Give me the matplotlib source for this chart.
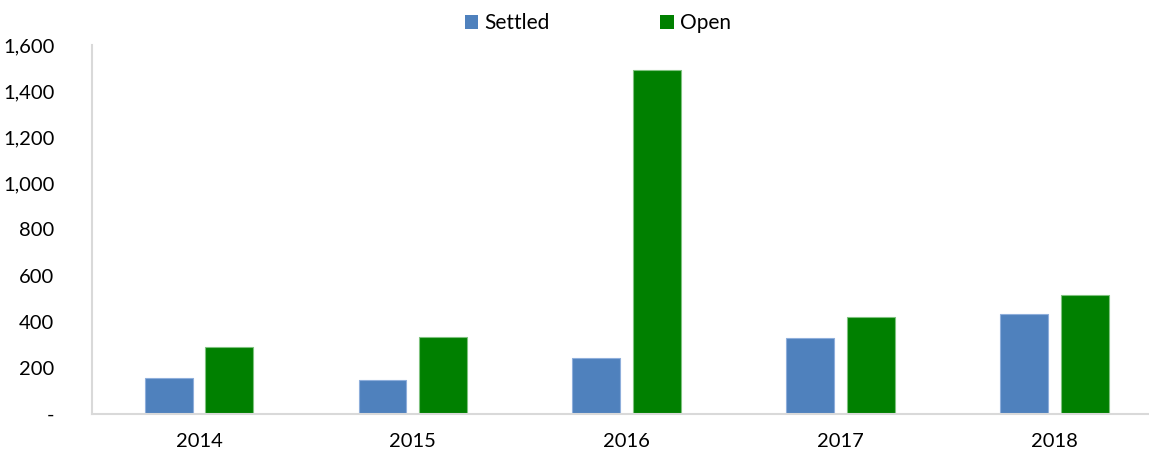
import matplotlib
matplotlib.use("Agg")
import matplotlib.pyplot as plt
import numpy as np
from matplotlib.patches import Patch

years = ["2014", "2015", "2016", "2017", "2018"]
settled = [157, 147, 241, 331, 435]
open_ = [292, 335, 1492, 419, 516]
yticks = [0, 200, 400, 600, 800, 1000, 1200, 1400, 1600]
ytick_labels = ["-", "200", "400", "600", "800", "1,000", "1,200", "1,400", "1,600"]

plt.rcParams['font.family'] = ['Lato', 'DejaVu Sans']

W, H = 1149, 454
fig = plt.figure(figsize=(W / 100, H / 100), dpi=100)
ax = fig.add_axes([92 / W, (H - 414) / H, 1 - 92 / W, (414 - 45) / H])

x = np.arange(len(years))
bw = 0.224
off = 0.142
c_set = "#4F81BD"
c_open = "#008000"
ax.bar(x - off, settled, bw, color=c_set, edgecolor="#8EAEDB", linewidth=0.8)
ax.bar(x + off, open_, bw, color=c_open, edgecolor="#7FC27F", linewidth=0.8)

ax.set_xlim(-0.5, -0.5 + (W - 92) / 213.9)
ax.set_ylim(0, 1600)
ax.set_yticks(yticks)
ax.set_yticklabels(ytick_labels)
ax.set_xticks(x)
ax.set_xticklabels(years)
ax.tick_params(axis="both", length=0, labelsize=14.5, colors="#000000")
ax.tick_params(axis="y", pad=27)
ax.tick_params(axis="x", pad=14)

for s in ["top", "right"]:
    ax.spines[s].set_visible(False)
for s in ["left", "bottom"]:
    ax.spines[s].set_color("#D9D9D9")
    ax.spines[s].set_linewidth(1.5)

handles = [Patch(facecolor=c_set, edgecolor="none", label="Settled"),
           Patch(facecolor=c_open, edgecolor="none", label="Open")]
fig.legend(handles=handles, loc="center", bbox_to_anchor=(598 / W, 1 - 23 / H),
           ncol=2, frameon=False, fontsize=15, handlelength=0.65, handleheight=0.65,
           handletextpad=0.3, columnspacing=5.3, borderpad=0)

fig.savefig("out.png", dpi=100)
